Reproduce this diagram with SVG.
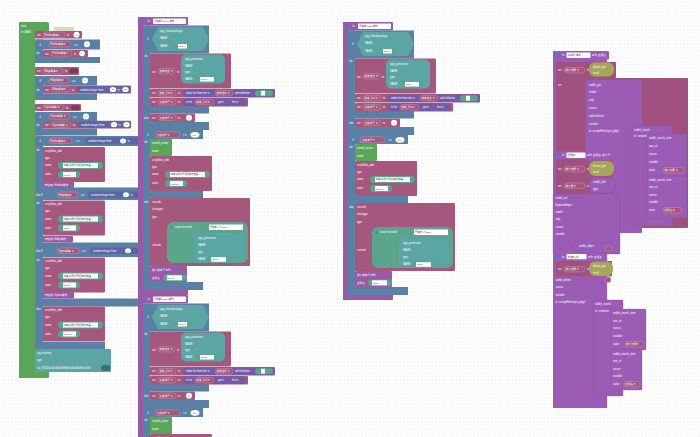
<svg xmlns="http://www.w3.org/2000/svg" width="700" height="437" viewBox="0 0 700 437">
<style>
.v{fill:#a5577e}
.vp{fill:#a5577e;stroke:#d3a3bb;stroke-width:.4}
.vd{fill:#7d3a5c}
.l{fill:#5b80a5}
.g{fill:#5ba55b}
.t{fill:#5ba5a5}
.tx{fill:#5ba58c}
.p{fill:#995ba5}
.m{fill:#5b67a5}
.ls{fill:#745ba5}
.o{fill:#a5a55b}
.k{fill:#9a5cb5}
.k2{fill:#a0517f}
.w{fill:#ffffff}
.ic{fill:#4f78d0}
text{font-family:"Liberation Sans","Noto Sans CJK SC",sans-serif;font-size:2.6px;fill:#ffffff}
text.d{fill:#333333;font-size:2.2px}
</style>
<defs>
<pattern id="dots" width="3.5" height="3.5" patternUnits="userSpaceOnUse">
<circle cx="1.75" cy="1.75" r="0.45" fill="#bdbdbd"/>
</pattern>
<g id="sfa">
<rect class="v" width="62" height="35" rx="1"/>
<text x="2" y="4.5">scriptflow_add</text>
<text x="2" y="11.5">type</text>
<text x="2" y="19.3">name</text>
<rect class="tx" x="15" y="15" width="45" height="7" rx="3.5"/>
<rect class="w" x="20" y="16" width="35" height="5"/>
<text class="d" x="21" y="19.4">脚本 设置打开网页的浏览器</text>
<text x="2" y="28.3">value</text>
<rect class="tx" x="15" y="24" width="22" height="7" rx="3.5"/>
<rect class="w" x="20" y="25" width="13" height="5"/>
</g>
<g id="fnT">
<rect class="p" x="0" y="0" width="5" height="278"/>
<rect class="p" x="0" y="0" width="50" height="8.5" rx="1"/>
<rect class="p" x="0" y="272" width="50" height="6" rx="1"/>
<circle class="ic" cx="2.8" cy="4.2" r="1.4"/>
<circle class="ic" cx="6.5" cy="4.2" r="1.4"/>
<text x="9.5" y="5.3">to</text>
<rect class="w" x="15" y="1.5" width="33" height="5.5" rx="0.8"/>
<rect class="l" x="5" y="8.5" width="66" height="28"/>
<rect class="l" x="5" y="8.5" width="7" height="105"/>
<rect class="l" x="5" y="89" width="66" height="7.5"/>
<rect class="l" x="5" y="105" width="66" height="8"/>
<circle class="ic" cx="7.5" cy="22" r="1.2"/>
<text x="9.3" y="23">if</text>
<polygon class="t" points="14,22 20,10 65,10 71,22 65,34 20,34"/>
<text x="22" y="15">app_checkpackage</text>
<text x="22" y="22">NAME</text>
<text x="22" y="30">NAME</text>
<rect class="tx" x="36" y="26" width="17" height="6.5" rx="3.2"/>
<rect class="w" x="40" y="27" width="9" height="4.5"/>
<text x="6.5" y="40">do</text>
<rect class="v" x="12" y="36.5" width="81" height="35" rx="1"/>
<text x="14" y="55.5">set</text>
<rect class="vp" x="20" y="51.5" width="17" height="5.5" rx="2.7"/>
<text x="21.5" y="55.2">版本信息 ▾</text>
<text x="39" y="55.5">to</text>
<rect class="t" x="43" y="37.5" width="44" height="29" rx="5"/>
<text x="47" y="43">app_getversion</text>
<text x="47" y="49.5">NAME</text>
<text x="47" y="56">type</text>
<text x="47" y="63">NAME</text>
<rect class="tx" x="58" y="59" width="22" height="6.5" rx="3.2"/>
<rect class="w" x="62" y="60" width="14" height="4.5"/>
<rect class="v" x="12" y="72" width="125" height="8.5" rx="1"/>
<text x="14" y="77.3">set</text>
<rect class="vp" x="20" y="73.5" width="18" height="5.5" rx="2.7"/>
<text x="21.5" y="77.2">版本_List ▾</text>
<text x="40" y="77.3">to</text>
<rect class="ls" x="45" y="72.5" width="92" height="7.5" rx="3.7"/>
<text x="48" y="77.3">make list from text ▾</text>
<rect class="vp" x="77" y="73.5" width="18" height="5.5" rx="2.7"/>
<text x="78.5" y="77.2">版本信息 ▾</text>
<text x="97" y="77.3">with delimiter</text>
<rect class="tx" x="117" y="73.2" width="18" height="6" rx="3"/>
<rect class="w" x="123" y="73.8" width="4" height="4.8"/>
<rect class="v" x="12" y="81" width="98" height="8.5" rx="1"/>
<text x="14" y="86.3">set</text>
<rect class="vp" x="20" y="82.5" width="18" height="5.5" rx="2.7"/>
<text x="21.5" y="86.2">大版本号 ▾</text>
<text x="40" y="86.3">to</text>
<rect class="ls" x="45" y="81.5" width="63" height="7.5" rx="3.7"/>
<text x="48" y="86.3">in list</text>
<rect class="vp" x="57" y="82.5" width="19" height="5.5" rx="2.7"/>
<text x="58.5" y="86.2">版本_List ▾</text>
<text x="80" y="86.3">get ▾</text>
<text x="94" y="86.3">first ▾</text>
<text x="6" y="101.5">else</text>
<rect class="v" x="12" y="96.5" width="45" height="8.5" rx="1"/>
<text x="14" y="101.8">set</text>
<rect class="vp" x="20" y="98" width="18" height="5.5" rx="2.7"/>
<text x="21.5" y="101.7">大版本号 ▾</text>
<text x="40" y="101.8">to</text>
<circle class="w" cx="51" cy="100.7" r="3"/>
<text class="d" x="50.3" y="101.6">0</text>
<rect class="l" x="5" y="113" width="60" height="9"/>
<rect class="l" x="5" y="113" width="7" height="160"/>
<rect class="l" x="5" y="174" width="60" height="7"/>
<rect class="l" x="5" y="265" width="60" height="8"/>
<circle class="ic" cx="7.5" cy="117.8" r="1.2"/>
<text x="9.3" y="118.8">if</text>
<rect class="vp" x="17" y="114.8" width="25" height="6" rx="3"/>
<text x="19" y="118.7">大版本号 ▾</text>
<text x="45" y="118.8">&lt; ▾</text>
<ellipse class="w" cx="57" cy="117.8" rx="4.5" ry="2.9"/>
<text class="d" x="54.6" y="118.6">100</text>
<text x="6.5" y="126">do</text>
<rect class="g" x="12" y="122" width="22" height="17" rx="1"/>
<text x="14" y="127">overall_action</text>
<text x="14" y="134.5">name</text>
<use href="#sfa" x="12" y="139"/>
<text class="d" x="33" y="167.6">Chrome</text>
<text x="6" y="185.5">else</text>
<rect class="v" x="12" y="181" width="100" height="68" rx="1"/>
<text x="14" y="186">console</text>
<text x="14" y="193">showtype</text>
<text x="14" y="201">type</text>
<text x="14" y="228.5">console</text>
<rect class="tx" x="29" y="205" width="81" height="41" rx="6"/>
<circle class="ic" cx="33.5" cy="210.3" r="1.2"/>
<text x="36.5" y="211.3">create text with</text>
<rect class="w" x="71" y="207.5" width="34" height="5.5"/>
<rect class="t" x="56" y="216" width="50" height="29" rx="5"/>
<text x="60" y="222">app_getversion</text>
<text x="60" y="229">NAME</text>
<text x="60" y="236">type</text>
<text x="60" y="243.3">NAME</text>
<rect class="tx" x="69" y="239.5" width="24" height="6" rx="3"/>
<rect class="w" x="73" y="240.2" width="15" height="4.6"/>
<rect class="p" x="12" y="249" width="37" height="16" rx="1"/>
<text x="14" y="254">搜索版本号 with:</text>
<text x="14" y="261.5">应用名</text>
<rect class="tx" x="25" y="257.5" width="24" height="6.5" rx="3.2"/>
<rect class="w" x="29" y="258.3" width="15" height="5"/>
</g>
</defs>
<rect width="700" height="437" fill="#ffffff"/>
<rect width="700" height="437" fill="url(#dots)"/>

<g id="main">
<rect class="g" x="19" y="22" width="30" height="12" rx="1.5"/>
<rect class="g" x="19" y="22" width="16" height="356"/>
<rect class="g" x="19" y="371" width="30" height="7" rx="1"/>
<text x="21" y="27">start</text>
<text x="21" y="32.5">in: MAIN</text>
<rect x="54" y="27" width="20" height="10" fill="#d8cdb2" opacity="0.8"/>

<rect class="v" x="35" y="31" width="47" height="7.5" rx="1"/>
<text x="37" y="35.8">set</text>
<rect class="vp" x="43" y="32" width="22" height="5.5" rx="2.7"/>
<text x="44.5" y="35.7">Firefox概率 ▾</text>
<text x="67" y="35.8">to</text>
<circle class="w" cx="76.5" cy="34.7" r="3"/>
<text class="d" x="75.8" y="35.5">0</text>

<rect class="l" x="35" y="39.5" width="65" height="10"/>
<rect class="l" x="35" y="39.5" width="8" height="23.5"/>
<rect class="l" x="35" y="57" width="65" height="6"/>
<circle class="ic" cx="37.5" cy="44.5" r="1.2"/>
<text x="39.5" y="45.5">if</text>
<rect class="vp" x="49" y="41.5" width="22" height="5.5" rx="2.7"/>
<text x="50.5" y="45.2">Firefox概率 ▾</text>
<text x="74" y="45.5">= ▾</text>
<circle class="w" cx="87" cy="44.3" r="3"/>
<text class="d" x="86.3" y="45.1">0</text>
<text x="36.5" y="53.5">do</text>
<rect class="v" x="43" y="50" width="45" height="7" rx="1"/>
<text x="45" y="54.5">set</text>
<rect class="vp" x="51" y="50.8" width="21" height="5.4" rx="2.7"/>
<text x="52.5" y="54.4">Firefox概率 ▾</text>
<text x="74" y="54.5">to</text>
<circle class="w" cx="82" cy="53.5" r="2.8"/>
<text class="d" x="81.3" y="54.3">0</text>

<rect class="v" x="35" y="67" width="44" height="8" rx="1"/>
<text x="37" y="72">set</text>
<rect class="vp" x="43" y="68.3" width="20" height="5.4" rx="2.7"/>
<text x="44.5" y="72">Edge概率 ▾</text>
<text x="65" y="72">to</text>
<rect class="vd" x="69" y="68.5" width="9" height="5" rx="2.5"/>

<rect class="l" x="35" y="76" width="62" height="9.5"/>
<rect class="l" x="35" y="76" width="8" height="24"/>
<rect class="l" x="35" y="93.5" width="62" height="6.5"/>
<circle class="ic" cx="37.5" cy="80.5" r="1.2"/>
<text x="39.5" y="81.5">if</text>
<rect class="vp" x="49" y="77.7" width="20" height="5.5" rx="2.7"/>
<text x="50.5" y="81.4">Edge概率 ▾</text>
<text x="72" y="81.5">= ▾</text>
<circle class="w" cx="85" cy="80.5" r="3"/>
<text class="d" x="84.3" y="81.3">0</text>
<text x="36.5" y="90.5">do</text>
<rect class="v" x="43" y="85.5" width="88" height="8" rx="1"/>
<text x="45" y="90.5">set</text>
<rect class="vp" x="51" y="86.8" width="19" height="5.4" rx="2.7"/>
<text x="52.5" y="90.4">Edge概率 ▾</text>
<text x="72" y="90.5">to</text>
<rect class="m" x="77" y="86.3" width="53" height="6.4" rx="3.2"/>
<text x="80" y="90.5">random integer from</text>
<ellipse class="w" cx="113" cy="89.5" rx="3.2" ry="2.6"/>
<text class="d" x="111.8" y="90.3">20</text>
<text x="117.5" y="90.5">to</text>
<ellipse class="w" cx="125.5" cy="89.5" rx="3.2" ry="2.6"/>
<text class="d" x="124.3" y="90.3">50</text>

<rect class="v" x="35" y="104" width="46" height="7" rx="1"/>
<text x="37" y="108.5">set</text>
<rect class="vp" x="43" y="104.8" width="21" height="5.4" rx="2.7"/>
<text x="44.5" y="108.4">Opera概率 ▾</text>
<text x="66" y="108.5">to</text>
<rect class="vd" x="71" y="105.2" width="9" height="4.8" rx="2.4"/>

<rect class="l" x="35" y="112" width="62" height="9"/>
<rect class="l" x="35" y="112" width="8" height="23.5"/>
<rect class="l" x="35" y="128.5" width="62" height="7"/>
<circle class="ic" cx="37.5" cy="116.5" r="1.2"/>
<text x="39.5" y="117.5">if</text>
<rect class="vp" x="49" y="113.7" width="21" height="5.5" rx="2.7"/>
<text x="50.5" y="117.4">Opera概率 ▾</text>
<text x="73" y="117.5">= ▾</text>
<circle class="w" cx="86" cy="116.5" r="3"/>
<text class="d" x="85.3" y="117.3">0</text>
<text x="36.5" y="125.5">do</text>
<rect class="v" x="43" y="120.8" width="88" height="7.7" rx="1"/>
<text x="45" y="125.6">set</text>
<rect class="vp" x="51" y="121.8" width="20" height="5.4" rx="2.7"/>
<text x="52.5" y="125.5">Opera概率 ▾</text>
<text x="73" y="125.6">to</text>
<rect class="m" x="78" y="121.4" width="53" height="6.4" rx="3.2"/>
<text x="81" y="125.6">random integer from</text>
<ellipse class="w" cx="114" cy="124.6" rx="3.2" ry="2.6"/>
<text class="d" x="113.3" y="125.4">0</text>
<text x="118.5" y="125.6">to</text>
<ellipse class="w" cx="126.5" cy="124.6" rx="3.2" ry="2.6"/>
<text class="d" x="125.3" y="125.4">10</text>

<rect class="l" x="35" y="136" width="107" height="10"/>
<rect class="l" x="35" y="136" width="8" height="214"/>
<rect class="l" x="35" y="187.5" width="107" height="12.5"/>
<rect class="l" x="35" y="242.5" width="107" height="14.5"/>
<rect class="l" x="35" y="298.5" width="105" height="8"/>
<rect class="l" x="35" y="342" width="70" height="8"/>
<circle class="ic" cx="37.5" cy="141" r="1.2"/>
<text x="39.5" y="142">if</text>
<rect class="vp" x="49" y="138" width="23" height="5.5" rx="2.7"/>
<text x="50.5" y="141.7">Firefox概率 ▾</text>
<text x="76" y="142">= ▾</text>
<rect class="m" x="85" y="137.6" width="57" height="6.6" rx="3.3"/>
<text x="88" y="142">random integer from</text>
<ellipse class="w" cx="123" cy="140.9" rx="3" ry="2.5"/>
<text class="d" x="122.3" y="141.7">0</text>
<text x="127.5" y="142">to</text>
<text x="36.5" y="150.5">do</text>
<use href="#sfa" x="43" y="147"/>
<text class="d" x="64" y="175.6">Firefox</text>
<rect class="p" x="43" y="181.5" width="31" height="6.5" rx="0.8"/>
<text x="44.5" y="185.7">开始搜索Firefox操作</text>

<text x="35.8" y="196">else if</text>
<rect class="vp" x="57" y="192" width="21" height="5.5" rx="2.7"/>
<text x="58.5" y="195.7">Edge概率 ▾</text>
<text x="81" y="196">= ▾</text>
<rect class="m" x="88" y="191.5" width="54" height="6.6" rx="3.3"/>
<text x="91" y="196">random integer from</text>
<ellipse class="w" cx="126" cy="194.8" rx="3" ry="2.5"/>
<text class="d" x="125.3" y="195.6">0</text>
<text x="130.5" y="196">to</text>
<text x="36.5" y="204">do</text>
<use href="#sfa" x="43" y="200.5"/>
<text class="d" x="64.5" y="229.1">Edge</text>
<rect class="p" x="43" y="236" width="30" height="6.5" rx="0.8"/>
<text x="44.5" y="240.2">开始搜索Edge操作</text>

<text x="35.8" y="252">else if</text>
<rect class="vp" x="57" y="248" width="22" height="5.5" rx="2.7"/>
<text x="58.5" y="251.7">Opera概率 ▾</text>
<text x="82" y="252">= ▾</text>
<rect class="m" x="90" y="247.5" width="52" height="6.6" rx="3.3"/>
<text x="93" y="252">random integer from</text>
<ellipse class="w" cx="128" cy="250.8" rx="3" ry="2.5"/>
<text class="d" x="127.3" y="251.6">0</text>
<text x="36.5" y="261">do</text>
<use href="#sfa" x="43" y="257.5"/>
<text class="d" x="64.2" y="286.1">Opera</text>
<rect class="p" x="43" y="292" width="31" height="6.5" rx="0.8"/>
<text x="44.5" y="296.2">开始搜索Opera操作</text>

<text x="36" y="310">else</text>
<use href="#sfa" x="43" y="306.5"/>
<text class="d" x="64" y="335.1">Chrome</text>

<rect class="t" x="35" y="349" width="76" height="23" rx="1"/>
<text x="37" y="353.5">org.scriptlog</text>
<text x="37" y="360.5">type</text>
<text x="37" y="368.5">val_f31345a9a5d4f2d9000b7a8d4bd4b7ac691</text>
<rect x="101" y="365" width="9.5" height="6" rx="3" fill="#3d6f78"/>
</g>

<g id="fn-firefox" transform="translate(138,17)">
<use href="#fnT"/>
<text class="d" x="16.5" y="5.3">开始搜索Firefox操作</text>
<text class="d" x="40.5" y="30.2">Firefox</text>
<text class="d" x="62.8" y="63.1">Firefox</text>
<text class="d" x="72" y="211">开始搜索了Firefox...</text>
<text class="d" x="74" y="243.3">Firefox</text>
<text class="d" x="30" y="261.6">Firefox</text>
</g>

<g id="fn-opera" transform="translate(138,295)">
<use href="#fnT"/>
<text class="d" x="16.5" y="5.3">开始搜索Opera操作</text>
<text class="d" x="40.6" y="30.2">Opera</text>
<text class="d" x="63" y="63.1">Opera</text>
</g>

<g id="fn-edge" transform="translate(343,22)">
<use href="#fnT"/>
<text class="d" x="16.5" y="5.3">开始搜索Edge操作</text>
<text class="d" x="41" y="30.2">Edge</text>
<text class="d" x="63.5" y="63.1">Edge</text>
<text class="d" x="72" y="211">开始搜索了Edge...</text>
<text class="d" x="74.5" y="243.3">Edge</text>
<text class="d" x="30.5" y="261.6">Edge</text>
</g>

<g id="col4">
<rect class="k" x="553" y="51" width="54" height="357"/>
<rect class="k" x="553" y="51" width="56" height="8.5" rx="1"/>
<circle class="ic" cx="555.8" cy="55.2" r="1.3"/>
<circle class="ic" cx="559.5" cy="55.2" r="1.3"/>
<text x="562" y="56.3">to</text>
<rect class="w" x="566.5" y="52.5" width="24" height="5.5" rx="0.8"/>
<text class="d" x="567.5" y="56.2">扫码搜索本地</text>
<text x="592" y="56.3">with: 应用名</text>
<rect class="k2" x="556" y="62" width="60" height="16" rx="1"/>
<text x="558" y="71">set</text>
<rect class="vp" x="564" y="67.5" width="21" height="5.5" rx="2.7"/>
<text x="565.5" y="71.2">搜索元素 ▾</text>
<text x="587" y="71">to</text>
<rect class="o" x="589" y="62.5" width="25" height="14" rx="6"/>
<text x="593" y="67.5">device_get</text>
<text x="593" y="74">resid</text>
<rect class="k2" x="556" y="78" width="132" height="150" rx="1"/>
<text x="558" y="86">set</text>
<rect class="k" x="586" y="80" width="56" height="153" rx="1"/>
<text x="589" y="85.5">toolkit_get</text>
<text x="589" y="93">model</text>
<text x="589" y="101">only</text>
<text x="589" y="109">source</text>
<text x="589" y="117">replicaSelect</text>
<text x="589" y="124.5">variable</text>
<text x="589" y="131.5">in: acceptFilterInput_pkg0</text>
<rect class="k" x="632" y="126" width="40" height="100" rx="1" stroke="#8a4fa5" stroke-width="0.3"/>
<text x="634" y="130.5">toolkit_search</text>
<text x="634" y="137">in: container</text>
<rect class="k" x="647" y="134" width="40" height="42" rx="1" stroke="#8a4fa5" stroke-width="0.3"/>
<text x="649" y="139">toolkit_search_item</text>
<text x="649" y="147">row_str</text>
<text x="649" y="155">source</text>
<text x="649" y="163">variable</text>
<text x="649" y="171">value</text>
<rect class="vp" x="663" y="167.5" width="21" height="5.5" rx="2.7"/>
<text x="664.5" y="171.2">搜索元素 ▾</text>
<rect class="k" x="647" y="176" width="40" height="42" rx="1" stroke="#8a4fa5" stroke-width="0.3"/>
<text x="649" y="181">toolkit_search_item</text>
<text x="649" y="188">row_str</text>
<text x="649" y="195.5">source</text>
<text x="649" y="203">variable</text>
<text x="649" y="211">value</text>
<rect class="vp" x="663" y="207.5" width="19" height="5.5" rx="2.7"/>
<text x="664.5" y="211.2">应用名 ▾</text>

<rect class="k" x="553" y="151.5" width="65" height="7.5" rx="1"/>
<circle class="ic" cx="555.8" cy="155.2" r="1.3"/>
<circle class="ic" cx="559.5" cy="155.2" r="1.3"/>
<text x="562" y="156.3">to</text>
<rect class="w" x="566.5" y="152.5" width="19" height="5.5" rx="0.8"/>
<text class="d" x="567.5" y="156.2">点击搜索</text>
<text x="587" y="156.3">with: 应用名, 搜索号</text>
<rect class="k2" x="556" y="160.5" width="57" height="16.5" rx="1"/>
<text x="558" y="169.8">set</text>
<rect class="vp" x="564" y="166.3" width="21" height="5.5" rx="2.7"/>
<text x="565.5" y="170">搜索元素 ▾</text>
<text x="587" y="169.8">to</text>
<rect class="o" x="589" y="161" width="25" height="15" rx="6"/>
<text x="593" y="166.5">device_get</text>
<text x="593" y="173">resid</text>
<rect class="k2" x="556" y="177.5" width="57" height="16" rx="1"/>
<text x="558" y="186.5">set</text>
<rect class="vp" x="564" y="183" width="21" height="5.5" rx="2.7"/>
<text x="565.5" y="186.7">搜索框 ▾</text>
<text x="587" y="186.5">to</text>
<rect class="k" x="589" y="178" width="26" height="15" rx="6" stroke="#8a4fa5" stroke-width="0.3"/>
<text x="593" y="183.3">toolkit_find</text>
<text x="593" y="190">type</text>
<rect class="k" x="553" y="194" width="67" height="60" rx="1" stroke="#8a4fa5" stroke-width="0.3"/>
<text x="555.5" y="198.5">toolkit_set</text>
<text x="555.5" y="205.5">keyboardInput</text>
<text x="555.5" y="213">model</text>
<text x="555.5" y="220">only</text>
<text x="555.5" y="227.5">source</text>
<text x="555.5" y="235">variable</text>
<rect class="k" x="573" y="242.5" width="40" height="10" rx="4" stroke="#8a4fa5" stroke-width="0.3"/>
<text x="579" y="247">toolkit_object</text>
<rect class="vp" x="605" y="246" width="7" height="5.5" rx="2.7"/>

<rect class="k" x="553" y="253" width="52" height="7" rx="1"/>
<circle class="ic" cx="555.8" cy="256.5" r="1.3"/>
<circle class="ic" cx="559.5" cy="256.5" r="1.3"/>
<text x="562" y="257.5">to</text>
<rect class="w" x="566.5" y="254" width="20" height="5.2" rx="0.8"/>
<text class="d" x="567.5" y="257.5">点击搜索项</text>
<text x="588" y="257.5">with: 应用名</text>
<rect class="k2" x="556" y="261" width="56" height="15.5" rx="1"/>
<text x="558" y="270">set</text>
<rect class="vp" x="564" y="266.5" width="21" height="5.5" rx="2.7"/>
<text x="565.5" y="270.2">搜索元素 ▾</text>
<text x="587" y="270">to</text>
<rect class="o" x="589" y="261.5" width="24" height="14.5" rx="6"/>
<text x="593" y="267">device_get</text>
<text x="593" y="273.5">resid</text>
<text x="555.5" y="280.5">toolkit_delete</text>
<rect class="vp" x="605" y="277" width="6" height="5.5" rx="2.7"/>
<text x="555.5" y="288">source</text>
<text x="555.5" y="295.5">variable</text>
<text x="555.5" y="303">in: acceptFilterInput_pkg0</text>
<rect class="k" x="593" y="300" width="30" height="96" rx="1" stroke="#8a4fa5" stroke-width="0.3"/>
<text x="595" y="304.5">toolkit_search</text>
<text x="595" y="311.5">in: container</text>
<rect class="k" x="611" y="309" width="35" height="41" rx="1" stroke="#8a4fa5" stroke-width="0.3"/>
<text x="613" y="314">toolkit_search_item</text>
<text x="613" y="321.5">row_str</text>
<text x="613" y="329">source</text>
<text x="613" y="337">variable</text>
<text x="613" y="345">value</text>
<rect class="vp" x="625" y="341.5" width="19" height="5.5" rx="2.7"/>
<text x="626.3" y="345.2">搜索元素 ▾</text>
<rect class="k" x="611" y="350" width="31" height="40" rx="1" stroke="#8a4fa5" stroke-width="0.3"/>
<text x="613" y="355">toolkit_search_item</text>
<text x="613" y="362">row_str</text>
<text x="613" y="369.5">source</text>
<text x="613" y="377">variable</text>
<text x="613" y="385">value</text>
<rect class="vp" x="624" y="381.5" width="16" height="5.5" rx="2.7"/>
<text x="625.3" y="385.2">应用名 ▾</text>
<rect class="k" x="553" y="396" width="54" height="12" rx="1"/>
</g>
</svg>
